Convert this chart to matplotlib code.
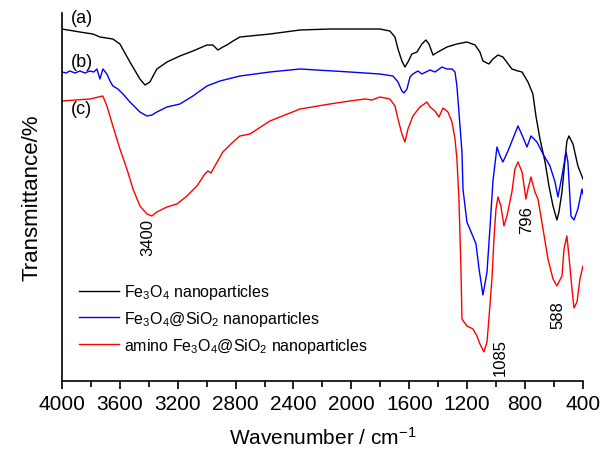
import matplotlib
matplotlib.use("Agg")
import matplotlib.pyplot as plt
from matplotlib.ticker import MultipleLocator

plt.rcParams['font.family'] = ['Liberation Sans', 'DejaVu Sans']
plt.rcParams['mathtext.fontset'] = 'custom'
plt.rcParams['mathtext.rm'] = 'Liberation Sans'
plt.rcParams['mathtext.it'] = 'Liberation Sans:italic'

# (a) Fe3O4
wn_a = [4000, 3876, 3786, 3737, 3648, 3599, 3530, 3461, 3426, 3392, 3344, 3274, 3185,
        3095, 2998, 2957, 2922, 2888, 2860, 2818, 2770, 2563, 2355, 2148, 1803, 1734,
        1699, 1678, 1651, 1630, 1609, 1582, 1547, 1513, 1485, 1464, 1436, 1402, 1340,
        1271, 1202, 1146, 1112, 1091, 1050, 1022, 987, 953, 891, 849, 821, 780, 746,
        725, 697, 662, 635, 607, 580, 566, 545, 524, 511, 497, 469, 435, 400]
t_a = [352, 349, 347, 344, 342, 337, 319, 302, 296, 299, 312, 319, 325,
       330, 336, 336, 331, 334, 336, 340, 344, 347, 351, 352, 352, 350,
       344, 332, 320, 314, 319, 327, 329, 337, 341, 337, 326, 329, 334,
       337, 339, 336, 329, 320, 317, 322, 326, 324, 312, 310, 309, 299, 287,
       265, 242, 219, 195, 175, 161, 169, 189, 222, 240, 245, 237, 215, 202]

# (b) Fe3O4@SiO2
wn_b = [4000, 3972, 3945, 3910, 3876, 3841, 3807, 3779, 3758, 3737, 3717, 3689, 3668,
        3648, 3613, 3578, 3530, 3461, 3413, 3378, 3344, 3274, 3185, 3095, 2998, 2908,
        2770, 2563, 2355, 2010, 1803, 1713, 1678, 1651, 1637, 1616, 1595, 1575, 1540,
        1513, 1457, 1423, 1374, 1340, 1305, 1284, 1271, 1257, 1236, 1229, 1202, 1167,
        1139, 1118, 1091, 1063, 1043, 1022, 994, 973, 953, 918, 849, 815, 787, 759,
        718, 676, 628, 593, 573, 545, 517, 504, 483, 462, 435, 407, 400]
t_b = [309, 308, 310, 308, 310, 308, 310, 309, 312, 302, 312, 307, 300,
       295, 292, 287, 279, 269, 265, 266, 269, 274, 277, 285, 295, 300,
       305, 309, 312, 309, 307, 305, 299, 290, 288, 292, 304, 307, 310,
       307, 311, 309, 314, 312, 312, 309, 295, 269, 229, 192, 159, 147,
       137, 112, 86, 109, 152, 200, 234, 225, 219, 230, 255, 244, 234, 245,
       239, 227, 215, 199, 184, 205, 229, 219, 165, 161, 172, 192, 187]

# (c) amino Fe3O4@SiO2
wn_c = [4000, 3807, 3717, 3689, 3648, 3599, 3551, 3509, 3461, 3413, 3378, 3344, 3274,
        3205, 3136, 3067, 3012, 2991, 2970, 2943, 2888, 2818, 2770, 2701, 2563, 2355,
        2148, 2010, 1906, 1858, 1803, 1734, 1699, 1678, 1651, 1630, 1609, 1575, 1526,
        1478, 1457, 1423, 1395, 1367, 1333, 1305, 1284, 1271, 1257, 1243, 1236, 1202,
        1160, 1133, 1112, 1084, 1063, 1050, 1029, 1015, 1001, 987, 967, 946, 925, 891,
        870, 849, 821, 794, 780, 759, 732, 711, 676, 642, 607, 580, 545, 531, 511,
        497, 476, 462, 441, 421, 400]
t_c = [280, 282, 285, 275, 255, 232, 212, 192, 175, 167, 165, 169, 174,
       177, 185, 195, 207, 210, 208, 215, 229, 239, 245, 247, 260, 272,
       277, 280, 282, 281, 284, 282, 275, 262, 247, 239, 252, 265, 274,
       279, 274, 270, 264, 273, 269, 259, 242, 222, 182, 112, 62, 55,
       52, 45, 37, 29, 39, 62, 102, 142, 172, 184, 175, 155, 165, 189,
       212, 219, 209, 182, 192, 204, 189, 182, 152, 122, 102, 95, 105, 132, 145,
       125, 92, 73, 79, 102, 115]

series = [
    (wn_a, t_a, 'black', 'Fe$_3$O$_4$ nanoparticles'),
    (wn_b, t_b, 'blue', 'Fe$_3$O$_4$@SiO$_2$ nanoparticles'),
    (wn_c, t_c, 'red', 'amino Fe$_3$O$_4$@SiO$_2$ nanoparticles'),
]

fig = plt.figure(figsize=(6.01, 4.52), dpi=100)
ax = fig.add_axes([0.103, 0.155, 0.867, 0.814])

for wn, t, c, lab in series:
    ax.plot(wn, t, color=c, lw=1.0, label=lab)

ax.set_xlim(4000, 400)
ax.set_ylim(0, 368)
ax.xaxis.set_major_locator(MultipleLocator(400))
ax.xaxis.set_minor_locator(MultipleLocator(200))
ax.set_yticks([])
ax.spines['top'].set_visible(False)
ax.spines['right'].set_visible(False)
ax.spines['left'].set_linewidth(1.2)
ax.spines['bottom'].set_linewidth(1.2)
ax.tick_params(axis='x', which='major', direction='out', length=6, width=1.2, labelsize=15)
ax.tick_params(axis='x', which='minor', direction='out', length=4, width=1.2)

ax.set_xlabel('Wavenumber / cm$^{-1}$', fontsize=15, labelpad=9)
ax.set_ylabel('Transmittance/%', fontsize=16, labelpad=14)

# curve labels
for lab, yv in [('(a)', 364), ('(b)', 320), ('(c)', 272)]:
    ax.text(3862, yv, lab, fontsize=13, ha='center', va='center')

# peak annotations
for lab, xv, yv in [('3400', 3406, 144), ('1085', 973, 24), ('796', 787, 162), ('588', 573, 67)]:
    ax.text(xv, yv, lab, fontsize=12, rotation=90, ha='center', va='center')

ax.legend(loc='upper left', bbox_to_anchor=(0.02, 0.286), frameon=False, fontsize=11.5,
          handlelength=2.5, handletextpad=0.35, labelspacing=0.5, borderaxespad=0)

fig.savefig('out.png', dpi=100)
